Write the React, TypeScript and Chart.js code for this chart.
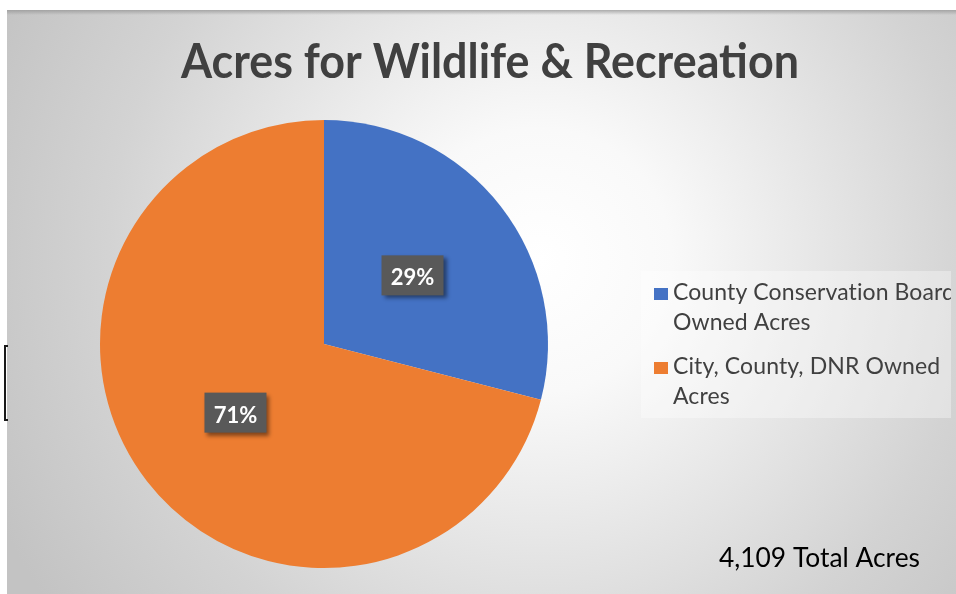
import { useEffect, useRef } from "react";
import { Chart, registerables } from "chart.js";

Chart.register(...registerables);

const TITLE = "Acres for Wildlife & Recreation";
const categories: string[][] = [
  ["County Conservation Board", "Owned Acres"],
  ["City, County, DNR Owned", "Acres"],
];
const acres: number[] = [1192, 2917];
const sliceColors: string[] = ["#4472C4", "#ED7D31"];
const totalSuffix = " Total Acres";

const W = 956;
const H = 594;

const decorPlugin = {
  id: "decor",
  beforeDraw(chart: any) {
    const ctx: CanvasRenderingContext2D = chart.ctx;
    ctx.save();
    const g = ctx.createRadialGradient(540, 260, 0, 540, 260, 600);
    g.addColorStop(0, "#ffffff");
    g.addColorStop(0.22, "#f9f9f9");
    g.addColorStop(0.72, "#d3d3d3");
    g.addColorStop(1, "#c3c3c3");
    ctx.fillStyle = g;
    ctx.fillRect(7, 10, W - 7, H - 10);
    const tg = ctx.createLinearGradient(0, 10, 0, 15);
    tg.addColorStop(0, "rgba(150,150,150,0.75)");
    tg.addColorStop(1, "rgba(150,150,150,0)");
    ctx.fillStyle = tg;
    ctx.fillRect(7, 10, W - 7, 5);
    ctx.fillStyle = "#1a1a1a";
    ctx.fillRect(4, 345, 2, 76);
    ctx.fillRect(4, 345, 4, 2);
    ctx.fillRect(4, 419, 4, 2);
    ctx.fillStyle = "#404040";
    ctx.font = "bold 48px Lato";
    ctx.textAlign = "center";
    ctx.textBaseline = "alphabetic";
    ctx.fillText(TITLE, 490, 78, 618);
    ctx.restore();
  },
  afterDatasetsDraw(chart: any) {
    const ctx: CanvasRenderingContext2D = chart.ctx;
    const ds = chart.data.datasets[0];
    const vals: number[] = ds.data as number[];
    const total = vals.reduce((a, b) => a + b, 0);
    const meta = chart.getDatasetMeta(0);
    ctx.save();
    meta.data.forEach((arc: any, i: number) => {
      const p = arc.getProps(["x", "y", "startAngle", "endAngle", "outerRadius"], true);
      const mid = (p.startAngle + p.endAngle) / 2;
      const cx = p.x + Math.cos(mid) * p.outerRadius * 0.5;
      const cy = p.y + Math.sin(mid) * p.outerRadius * 0.5;
      const bw = 62;
      const bh = 40;
      ctx.save();
      ctx.shadowColor = "rgba(0,0,0,0.45)";
      ctx.shadowBlur = 4;
      ctx.shadowOffsetX = 3;
      ctx.shadowOffsetY = 3;
      ctx.fillStyle = "#595959";
      ctx.fillRect(cx - bw / 2, cy - bh / 2, bw, bh);
      ctx.restore();
      ctx.fillStyle = "#ffffff";
      ctx.font = "bold 22px Lato";
      ctx.textAlign = "center";
      ctx.textBaseline = "alphabetic";
      const pct = Math.round((vals[i] / total) * 100) + "%";
      ctx.fillText(pct, cx, cy + 10);
    });
    const lx = 641, ly = 271, lw = 310, lh = 147;
    ctx.fillStyle = "rgba(255,255,255,0.35)";
    ctx.fillRect(lx, ly, lw, lh);
    ctx.save();
    ctx.beginPath();
    ctx.rect(lx, ly, lw, lh);
    ctx.clip();
    const labels: string[][] = chart.data.labels;
    const colors: string[] = ds.backgroundColor;
    const itemTops = [288, 362];
    labels.forEach((lines, i) => {
      const top = itemTops[i];
      ctx.fillStyle = colors[i];
      ctx.fillRect(654, top, 14, 12);
      ctx.fillStyle = "#404040";
      ctx.font = "23px Lato";
      (ctx as any).letterSpacing = "0.1px";
      ctx.textAlign = "left";
      ctx.textBaseline = "alphabetic";
      lines.forEach((ln, j) => {
        ctx.fillText(ln, 673, top + 12 + j * 30);
      });
    });
    ctx.restore();
    (ctx as any).letterSpacing = "0px";
    ctx.fillStyle = "#000000";
    ctx.font = "27px Lato";
    ctx.textAlign = "left";
    ctx.textBaseline = "alphabetic";
    ctx.fillText(total.toLocaleString("en-US") + totalSuffix, 719, 567, 201);
    ctx.restore();
  },
};

export default function App() {
  const ref = useRef<HTMLCanvasElement | null>(null);
  useEffect(() => {
    document.body.style.margin = "0";
    if (!ref.current) return;
    const chart = new Chart(ref.current, {
      type: "pie",
      data: {
        labels: categories,
        datasets: [
          {
            data: acres,
            backgroundColor: sliceColors,
            borderWidth: 0,
          },
        ],
      },
      options: {
        animation: false,
        responsive: false,
        layout: { padding: { left: 100, right: 408, top: 120, bottom: 26 } },
        plugins: {
          legend: { display: false },
          tooltip: { enabled: false },
          title: { display: false },
        },
      },
      plugins: [decorPlugin],
    });
    return () => chart.destroy();
  }, []);
  return (
    <div style={{ position: "fixed", left: 0, top: 0, width: W, height: H, background: "#ffffff" }}>
      <canvas ref={ref} width={W} height={H} style={{ width: W, height: H, display: "block" }} />
    </div>
  );
}
